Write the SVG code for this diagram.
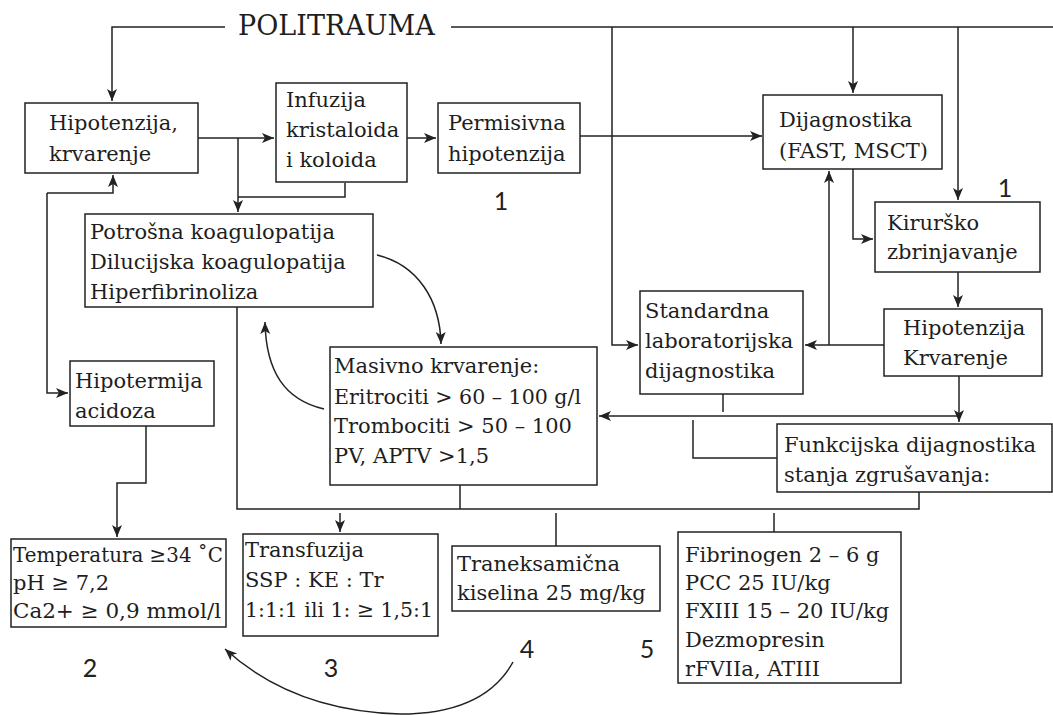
<svg xmlns="http://www.w3.org/2000/svg" width="1053" height="715" viewBox="0 0 1053 715">
<style>
  .box { fill: #ffffff; stroke: #222; stroke-width: 1.5; }
  .t { font-family: "DejaVu Serif", "Liberation Serif", serif; font-size: 21px; fill: #1e1e1e; }
  .title { font-family: "DejaVu Serif", "Liberation Serif", serif; font-size: 27px; fill: #1e1e1e; }
  .num { font-family: "Lato", "Liberation Sans", sans-serif; font-size: 25px; fill: #222; text-anchor: middle; }
  .c { fill: none; stroke: #222; stroke-width: 1.5; }
  .a { marker-end: url(#ah); }
</style>
<defs>
  <marker id="ah" markerUnits="userSpaceOnUse" markerWidth="14" markerHeight="12" refX="12" refY="5" orient="auto">
    <path d="M0,0 L12,5 L0,10 L3,5 z" fill="#222"/>
  </marker>
</defs>
<rect width="1053" height="715" fill="#ffffff"/>

<g id="connectors">
  <path class="c a" d="M225,27 H112 V101"/>
  <path class="c" d="M451,27 H1053"/>
  <path class="c a" d="M612,27 V345 H638"/>
  <path class="c a" d="M853,27 V93"/>
  <path class="c a" d="M958,27 V200"/>
  <path class="c a" d="M198,138 H274"/>
  <path class="c a" d="M238,138 V212"/>
  <path class="c" d="M345,183 V197 H238"/>
  <path class="c a" d="M407,138 H436"/>
  <path class="c a" d="M580,136 H762"/>
  <path class="c a" d="M853,169 V239 H873"/>
  <path class="c a" d="M958,272 V307"/>
  <path class="c a" d="M884,345 H805"/>
  <path class="c a" d="M829,345 V171"/>
  <path class="c a" d="M959,376 V422"/>
  <path class="c a" d="M959,416 H599"/>
  <path class="c" d="M723,394 V412"/>
  <path class="c" d="M788,458 H693 V420"/>
  <path class="c" d="M919,492 V509 H237 V307"/>
  <path class="c" d="M460,485 V509"/>
  <path class="c a" d="M340,513 V532"/>
  <path class="c" d="M556,513 V546"/>
  <path class="c" d="M774,513 V532"/>
  <path class="c a" d="M146,426 V483 H117 V537"/>
  <path class="c a" d="M47,193 H113 V175"/>
  <path class="c a" d="M47,193 V393 H68"/>
  <path class="c a" d="M377,255 C418,265 440,300 441,344"/>
  <path class="c a" d="M324,409 C285,400 266,372 265,322"/>
  <path class="c a" d="M513,662 C492,700 450,714 400,714 C330,712 270,690 225,649"/>
</g>

<g id="politrauma"><text class="title" x="238" y="35">POLITRAUMA</text></g>

<g id="hipotenzija1">
  <rect class="box" x="25" y="103" width="173" height="70"/>
  <text class="t" x="49" y="130">Hipotenzija,</text>
  <text class="t" x="49" y="161">krvarenje</text>
</g>
<g id="infuzija">
  <rect class="box" x="276" y="83" width="131" height="99"/>
  <text class="t" x="286" y="107">Infuzija</text>
  <text class="t" x="286" y="137">kristaloida</text>
  <text class="t" x="286" y="167">i koloida</text>
</g>
<g id="permisivna">
  <rect class="box" x="438" y="103" width="142" height="70"/>
  <text class="t" x="448" y="130">Permisivna</text>
  <text class="t" x="448" y="161">hipotenzija</text>
</g>
<g id="dijagnostika">
  <rect class="box" x="763" y="95" width="179" height="74"/>
  <text class="t" x="779" y="127">Dijagnostika</text>
  <text class="t" x="779" y="158">(FAST, MSCT)</text>
</g>
<g id="kirursko">
  <rect class="box" x="875" y="202" width="165" height="70"/>
  <text class="t" x="887" y="230">Kirurško</text>
  <text class="t" x="887" y="259">zbrinjavanje</text>
</g>
<g id="potrosna">
  <rect class="box" x="85" y="214" width="288" height="93"/>
  <text class="t" x="90" y="239">Potrošna koagulopatija</text>
  <text class="t" x="90" y="269">Dilucijska koagulopatija</text>
  <text class="t" x="90" y="299">Hiperfibrinoliza</text>
</g>
<g id="hipotermija">
  <rect class="box" x="70" y="361" width="144" height="65"/>
  <text class="t" x="75" y="388">Hipotermija</text>
  <text class="t" x="75" y="418">acidoza</text>
</g>
<g id="masivno">
  <rect class="box" x="330" y="347" width="267" height="138"/>
  <text class="t" x="334" y="373">Masivno krvarenje:</text>
  <text class="t" x="334" y="404" textLength="247" lengthAdjust="spacingAndGlyphs">Eritrociti &gt; 60 – 100 g/l</text>
  <text class="t" x="334" y="433">Trombociti &gt; 50 – 100</text>
  <text class="t" x="334" y="463">PV, APTV &gt;1,5</text>
</g>
<g id="standardna">
  <rect class="box" x="640" y="291" width="163" height="103"/>
  <text class="t" x="645" y="318">Standardna</text>
  <text class="t" x="645" y="348">laboratorijska</text>
  <text class="t" x="645" y="378">dijagnostika</text>
</g>
<g id="hipotenzija2">
  <rect class="box" x="884" y="309" width="158" height="67"/>
  <text class="t" x="903" y="335">Hipotenzija</text>
  <text class="t" x="903" y="365">Krvarenje</text>
</g>
<g id="funkcijska">
  <rect class="box" x="777" y="424" width="275" height="68"/>
  <text class="t" x="784" y="452">Funkcijska dijagnostika</text>
  <text class="t" x="784" y="482">stanja zgrušavanja:</text>
</g>
<g id="temperatura">
  <rect class="box" x="11" y="539" width="215" height="88"/>
  <text class="t" x="13" y="562" textLength="210" lengthAdjust="spacingAndGlyphs">Temperatura ≥34 ˚C</text>
  <text class="t" x="13" y="590">pH ≥ 7,2</text>
  <text class="t" x="13" y="618" textLength="208" lengthAdjust="spacingAndGlyphs">Ca2+ ≥ 0,9 mmol/l</text>
</g>
<g id="transfuzija">
  <rect class="box" x="243" y="534" width="195" height="102"/>
  <text class="t" x="245" y="557">Transfuzija</text>
  <text class="t" x="245" y="587">SSP : KE : Tr</text>
  <text class="t" x="245" y="617" textLength="188" lengthAdjust="spacingAndGlyphs">1:1:1 ili 1: ≥ 1,5:1</text>
</g>
<g id="traneksamicna">
  <rect class="box" x="452" y="546" width="208" height="65"/>
  <text class="t" x="457" y="571">Traneksamična</text>
  <text class="t" x="457" y="600">kiselina 25 mg/kg</text>
</g>
<g id="fibrinogen">
  <rect class="box" x="678" y="532" width="223" height="151"/>
  <text class="t" x="685" y="562">Fibrinogen 2 – 6 g</text>
  <text class="t" x="685" y="590">PCC 25 IU/kg</text>
  <text class="t" x="685" y="618">FXIII 15 – 20 IU/kg</text>
  <text class="t" x="685" y="647">Dezmopresin</text>
  <text class="t" x="685" y="676">rFVIIa, ATIII</text>
</g>

<g id="labels">
  <text class="num" x="501" y="210">1</text>
  <text class="num" x="1005" y="197">1</text>
  <text class="num" x="90" y="677">2</text>
  <text class="num" x="331" y="677">3</text>
  <text class="num" x="527" y="658">4</text>
  <text class="num" x="647" y="658">5</text>
</g>
</svg>
